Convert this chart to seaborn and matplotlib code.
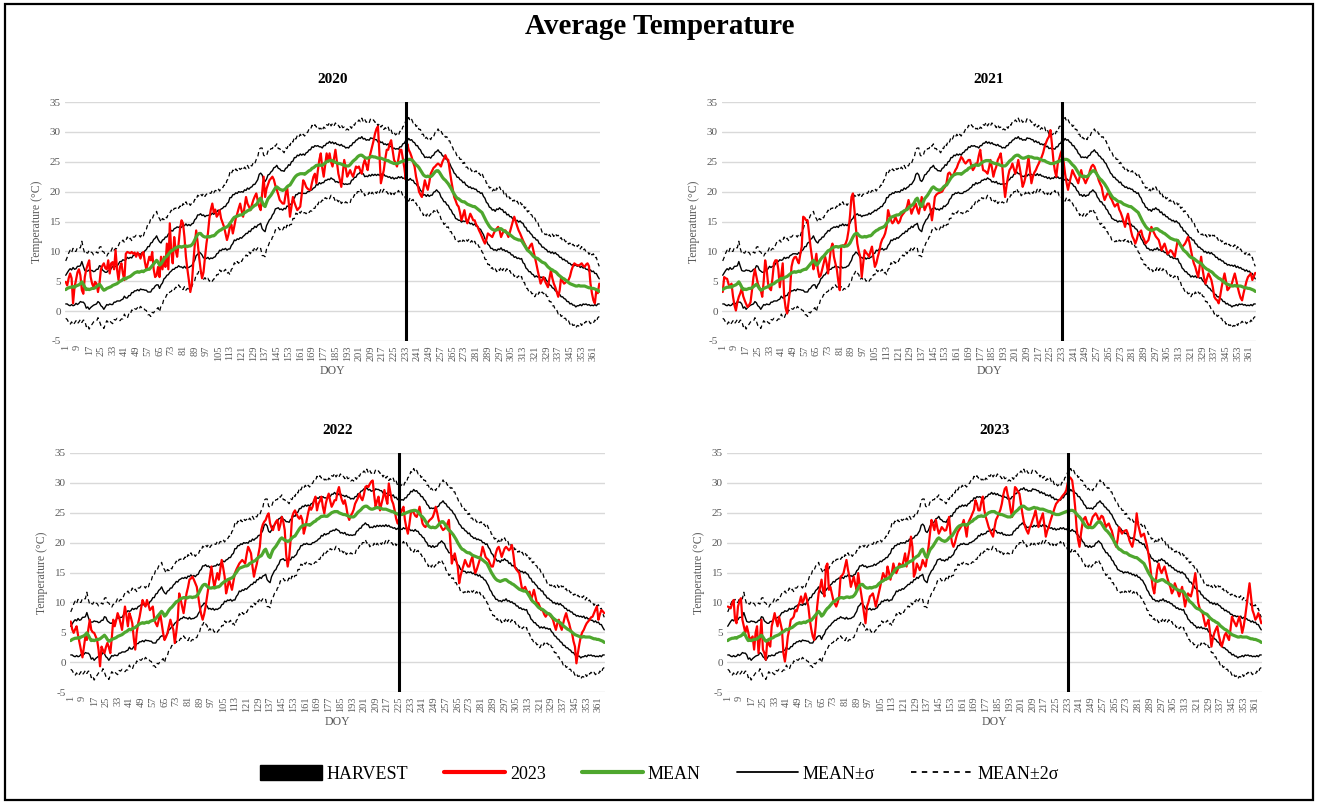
import numpy as np
import pandas as pd
import matplotlib
matplotlib.use("Agg")
import matplotlib.pyplot as plt
import seaborn as sns
from matplotlib.lines import Line2D
from matplotlib.patches import Patch, Rectangle

# ---------------------------------------------------------------------------
# Daily average temperature (°C) by day of year
# ---------------------------------------------------------------------------
YEARS = ["2020", "2021", "2022", "2023"]
HARVEST_DOY = [233, 233, 225, 233]

MEAN = [
    3.6, 3.8, 3.9, 4.0, 4.0, 4.1, 4.0, 4.2, 4.3, 4.4,
    4.6, 4.9, 4.5, 4.0, 3.6, 3.7, 3.6, 3.7, 3.8, 3.8,
    3.9, 4.1, 4.3, 4.5, 4.2, 3.8, 3.5, 3.6, 3.8, 3.9,
    4.0, 4.1, 4.3, 4.4, 4.5, 4.6, 4.8, 5.0, 5.1, 5.3,
    5.5, 5.4, 5.6, 5.7, 5.8, 6.0, 6.2, 6.4, 6.5, 6.6,
    6.5, 6.6, 6.7, 6.6, 6.8, 6.9, 7.0, 7.0, 7.3, 7.6,
    7.9, 8.2, 8.5, 8.2, 7.7, 7.9, 8.3, 8.7, 9.0, 9.2,
    9.5, 9.8, 10.1, 10.2, 10.4, 10.6, 10.7, 10.8, 10.8, 10.7,
    10.8, 10.9, 10.9, 10.8, 10.9, 10.9, 11.1, 11.4, 11.9, 12.4,
    12.8, 13.0, 13.0, 12.7, 12.5, 12.4, 12.4, 12.5, 12.4, 12.5,
    12.6, 12.6, 12.8, 13.1, 13.3, 13.5, 13.6, 13.8, 13.9, 14.0,
    14.1, 14.3, 14.7, 15.0, 15.4, 15.7, 15.8, 15.9, 16.0, 16.1,
    16.1, 16.2, 16.5, 16.6, 16.8, 16.9, 17.0, 17.3, 17.5, 17.7,
    17.8, 18.2, 18.7, 18.9, 18.3, 17.7, 17.5, 18.2, 18.8, 19.1,
    19.4, 19.8, 20.2, 20.6, 20.8, 20.6, 20.4, 20.3, 20.2, 20.3,
    20.5, 20.8, 21.0, 21.1, 21.5, 21.9, 22.3, 22.6, 22.8, 22.9,
    23.0, 23.0, 23.0, 22.9, 23.1, 23.3, 23.5, 23.6, 23.9, 24.0,
    24.2, 24.4, 24.4, 24.5, 24.4, 24.4, 24.6, 24.8, 25.0, 25.1,
    25.2, 25.2, 25.2, 25.0, 24.9, 24.8, 24.7, 24.7, 24.6, 24.5,
    24.4, 24.3, 24.3, 24.3, 24.5, 24.8, 25.1, 25.3, 25.5, 25.8,
    26.0, 26.1, 26.1, 25.9, 25.7, 25.6, 25.6, 25.7, 25.8, 25.9,
    25.8, 25.8, 25.7, 25.6, 25.6, 25.6, 25.5, 25.4, 25.3, 25.2,
    25.2, 25.0, 24.9, 24.8, 24.7, 24.7, 24.7, 24.8, 24.9, 25.0,
    25.1, 25.2, 25.3, 25.3, 25.4, 25.4, 25.3, 25.1, 24.8, 24.5,
    24.3, 24.0, 23.6, 23.2, 22.8, 22.6, 22.5, 22.6, 22.5, 22.5,
    22.7, 23.0, 23.3, 23.5, 23.5, 23.2, 22.8, 22.4, 22.1, 21.9,
    21.6, 21.3, 20.9, 20.5, 20.0, 19.6, 19.2, 18.9, 18.8, 18.6,
    18.4, 18.3, 18.3, 18.1, 17.9, 17.8, 17.7, 17.6, 17.5, 17.5,
    17.3, 17.1, 16.9, 16.7, 16.5, 16.0, 15.5, 15.0, 14.6, 14.2,
    13.9, 13.7, 13.6, 13.5, 13.6, 13.7, 13.8, 13.8, 13.6, 13.4,
    13.3, 13.1, 13.0, 12.8, 12.6, 12.4, 12.2, 12.1, 12.0, 11.9,
    11.9, 11.8, 11.4, 11.0, 10.6, 10.2, 10.0, 9.8, 9.5, 9.2,
    9.0, 8.9, 8.8, 8.6, 8.4, 8.2, 8.1, 8.0, 7.7, 7.4,
    7.2, 7.0, 6.9, 6.7, 6.6, 6.4, 6.1, 5.9, 5.7, 5.5,
    5.4, 5.2, 5.0, 4.8, 4.6, 4.5, 4.4, 4.3, 4.2, 4.2,
    4.3, 4.2, 4.2, 4.2, 4.2, 4.1, 4.0, 3.9, 3.9, 3.8,
    3.8, 3.7, 3.6, 3.5, 3.3,
]

SIGMA = [
    2.4, 2.6, 2.9, 3.1, 2.9, 3.2, 3.0, 2.9, 3.2, 3.1,
    3.0, 3.4, 3.0, 2.8, 3.1, 3.0, 3.3, 3.1, 3.0, 2.8,
    2.8, 2.9, 2.7, 3.1, 3.3, 3.1, 3.2, 2.9, 2.7, 2.9,
    2.8, 3.0, 3.2, 2.9, 3.0, 2.9, 3.1, 3.3, 3.2, 3.3,
    3.0, 3.2, 3.4, 3.1, 3.2, 2.9, 3.1, 3.0, 3.1, 3.0,
    3.1, 2.9, 3.1, 3.0, 3.3, 3.4, 3.8, 3.8, 4.1, 3.9,
    4.1, 4.0, 4.1, 3.8, 3.9, 3.5, 3.6, 3.3, 3.4, 3.2,
    3.4, 3.3, 3.4, 3.2, 3.4, 3.3, 3.4, 3.2, 3.4, 3.3,
    3.6, 3.4, 3.7, 3.5, 3.6, 3.4, 3.5, 3.3, 3.4, 3.1,
    3.3, 3.1, 3.3, 3.3, 3.6, 3.4, 3.6, 3.5, 3.7, 3.6,
    3.8, 3.6, 3.7, 3.5, 3.6, 3.3, 3.5, 3.4, 3.6, 3.5,
    3.9, 3.9, 4.3, 4.0, 4.1, 3.8, 4.0, 3.8, 4.0, 3.8,
    3.9, 3.7, 3.8, 3.6, 3.8, 3.5, 3.7, 3.5, 3.7, 3.5,
    3.8, 3.8, 4.2, 4.2, 4.5, 4.2, 4.2, 3.9, 4.0, 3.8,
    3.9, 3.7, 3.8, 3.5, 3.6, 3.3, 3.4, 3.2, 3.3, 3.1,
    3.4, 3.2, 3.5, 3.3, 3.5, 3.2, 3.4, 3.1, 3.3, 3.1,
    3.3, 3.1, 3.3, 3.2, 3.4, 3.3, 3.5, 3.4, 3.6, 3.4,
    3.5, 3.2, 3.3, 3.0, 3.1, 2.9, 3.1, 2.9, 3.1, 3.0,
    3.2, 2.9, 3.1, 3.0, 3.3, 3.1, 3.2, 3.0, 3.3, 3.1,
    3.2, 3.0, 3.1, 3.0, 3.2, 2.9, 3.1, 2.9, 3.1, 2.9,
    3.0, 2.8, 3.1, 2.9, 3.2, 3.0, 3.1, 2.9, 3.2, 3.0,
    3.1, 2.9, 3.0, 2.7, 2.9, 2.6, 2.8, 2.5, 2.7, 2.6,
    2.8, 2.5, 2.7, 2.4, 2.6, 2.4, 2.5, 2.3, 2.6, 2.5,
    2.9, 2.9, 3.3, 3.2, 3.5, 3.2, 3.4, 3.2, 3.4, 3.2,
    3.4, 3.2, 3.4, 3.2, 3.4, 3.1, 3.3, 3.1, 3.3, 3.1,
    3.3, 3.1, 3.3, 3.2, 3.5, 3.4, 3.7, 3.6, 3.8, 3.6,
    3.8, 3.6, 3.8, 3.6, 3.7, 3.5, 3.7, 3.5, 3.6, 3.4,
    3.5, 3.2, 3.3, 3.0, 3.1, 2.9, 3.1, 2.9, 3.1, 2.9,
    3.1, 2.9, 3.1, 3.0, 3.3, 3.2, 3.4, 3.2, 3.4, 3.2,
    3.4, 3.2, 3.4, 3.2, 3.5, 3.3, 3.5, 3.2, 3.4, 3.1,
    3.3, 3.0, 3.2, 3.0, 3.2, 3.0, 3.2, 3.0, 3.2, 3.0,
    3.2, 3.0, 3.3, 3.1, 3.4, 3.2, 3.4, 3.2, 3.3, 3.1,
    3.3, 3.0, 3.1, 2.7, 2.8, 2.5, 2.6, 2.4, 2.6, 2.5,
    2.8, 2.7, 3.0, 2.9, 3.2, 3.1, 3.3, 3.1, 3.3, 3.1,
    3.3, 3.2, 3.4, 3.2, 3.4, 3.2, 3.4, 3.3, 3.5, 3.3,
    3.4, 3.1, 3.3, 3.0, 3.1, 2.9, 3.0, 2.8, 3.0, 2.8,
    2.9, 2.6, 2.7, 2.3, 2.1,
]

TEMP_2020 = [
    4.9, 4.3, 5.5, 6.3, 5.5, 1.3, 4.0, 5.2, 6.5, 7.0,
    6.0, 3.5, 2.9, 5.7, 7.0, 7.8, 8.5, 5.7, 4.6, 4.0,
    4.9, 4.6, 3.2, 4.6, 7.0, 7.6, 8.0, 7.2, 7.0, 8.5,
    6.3, 8.0, 8.2, 7.0, 10.2, 7.0, 5.2, 7.4, 8.0, 6.3,
    5.2, 9.6, 9.9, 9.8, 9.7, 9.9, 9.6, 9.8, 9.1, 9.8,
    9.4, 8.8, 9.6, 9.9, 8.2, 7.0, 8.0, 9.1, 8.5, 9.9,
    7.0, 5.7, 6.0, 7.4, 5.7, 9.1, 7.0, 9.1, 7.4, 11.3,
    7.0, 14.7, 9.9, 8.0, 12.4, 10.2, 9.1, 11.3, 13.8, 15.2,
    14.7, 12.4, 9.1, 7.0, 5.2, 3.2, 4.5, 8.0, 11.0, 13.5,
    11.5, 9.0, 7.0, 5.5, 6.5, 9.0, 11.3, 13.0, 15.5, 17.0,
    18.0, 16.5, 17.0, 15.8, 16.2, 16.9, 15.5, 14.8, 14.1, 13.0,
    11.9, 12.8, 14.1, 14.5, 13.0, 14.2, 15.5, 16.3, 17.2, 18.0,
    16.8, 15.8, 17.5, 19.1, 18.0, 17.5, 16.9, 17.8, 18.6, 19.2,
    19.7, 18.5, 17.5, 16.9, 19.8, 22.5, 19.1, 20.5, 21.2, 21.9,
    22.2, 22.5, 22.0, 21.0, 20.3, 19.5, 18.6, 18.3, 18.0, 18.0,
    19.5, 20.8, 18.5, 15.8, 17.5, 19.1, 18.2, 17.5, 16.9, 17.2,
    17.5, 19.5, 21.9, 21.5, 20.8, 20.5, 20.3, 20.3, 21.5, 22.5,
    23.0, 21.4, 23.5, 25.3, 26.4, 24.0, 22.5, 24.5, 26.4, 25.0,
    26.4, 25.0, 24.2, 25.5, 27.0, 25.0, 23.0, 22.0, 20.8, 23.0,
    25.3, 24.0, 22.5, 23.0, 23.6, 23.0, 22.5, 23.3, 24.2, 24.0,
    24.2, 23.5, 23.0, 24.5, 25.3, 24.5, 23.6, 25.5, 26.5, 27.5,
    28.5, 29.7, 30.5, 30.9, 26.4, 21.4, 22.5, 23.6, 25.5, 27.0,
    27.0, 28.0, 28.6, 27.0, 25.3, 24.8, 24.2, 25.5, 27.0, 27.0,
    25.5, 24.0, 22.0, 28.0, 27.0, 26.5, 25.8, 24.9, 24.2, 22.5,
    21.4, 20.0, 19.5, 19.1, 20.5, 21.9, 21.0, 20.3, 21.5, 23.0,
    23.5, 24.0, 24.2, 24.5, 24.7, 24.5, 24.2, 25.0, 25.5, 26.1,
    25.5, 25.3, 23.5, 21.9, 20.5, 19.1, 18.5, 17.8, 17.5, 16.5,
    15.2, 16.0, 16.9, 15.5, 14.7, 15.5, 16.3, 15.8, 15.2, 15.2,
    14.5, 14.1, 13.5, 13.0, 12.4, 11.8, 11.3, 12.0, 13.0, 12.8,
    12.6, 12.4, 13.0, 13.5, 13.8, 14.1, 13.5, 12.4, 13.0, 13.5,
    13.5, 13.0, 12.4, 13.2, 14.1, 15.0, 15.8, 15.0, 14.2, 13.5,
    13.0, 12.4, 11.8, 11.3, 10.8, 10.2, 10.5, 11.0, 11.3, 10.2,
    9.1, 8.0, 6.8, 5.7, 4.6, 5.2, 5.7, 5.0, 4.5, 4.0,
    5.5, 6.8, 5.5, 4.6, 4.0, 3.2, 2.4, 3.5, 5.7, 5.0,
    4.6, 4.8, 5.0, 5.2, 5.8, 6.8, 7.5, 8.0, 7.8, 7.7,
    7.6, 7.8, 8.0, 7.6, 7.4, 7.8, 8.0, 7.5, 4.6, 3.0,
    1.8, 1.3, 3.5, 3.0, 4.6,
]

TEMP_2021 = [
    3.2, 5.7, 5.5, 5.4, 4.5, 4.0, 4.6, 2.5, 1.0, 0.1,
    1.5, 2.4, 3.0, 3.8, 2.5, 1.8, 1.2, 0.7, 1.0, 1.5,
    3.5, 5.7, 7.0, 5.8, 4.6, 4.0, 3.5, 2.4, 5.0, 8.5,
    7.0, 4.6, 3.8, 3.5, 5.5, 8.0, 8.5, 8.5, 7.0, 4.0,
    6.0, 8.0, 2.4, 0.5, -0.4, 1.5, 3.5, 7.4, 8.5, 9.0,
    9.1, 8.5, 8.0, 9.5, 10.8, 15.8, 15.6, 15.2, 15.2, 13.0,
    10.8, 9.0, 7.0, 8.0, 9.6, 7.0, 5.7, 6.0, 7.0, 8.0,
    9.1, 8.0, 6.3, 8.5, 10.5, 11.3, 9.1, 8.0, 7.0, 5.0,
    3.5, 10.8, 11.0, 11.0, 11.3, 12.0, 13.5, 16.0, 19.1, 19.7,
    17.0, 14.0, 11.3, 10.0, 9.1, 5.7, 8.0, 10.2, 9.8, 9.5,
    9.1, 10.0, 10.8, 9.0, 7.4, 8.0, 9.1, 10.0, 11.3, 12.0,
    12.4, 13.0, 14.1, 16.9, 16.0, 15.2, 14.7, 15.0, 15.8, 15.2,
    14.7, 15.0, 15.8, 16.2, 16.5, 16.9, 17.5, 18.6, 17.5, 16.3,
    17.0, 17.5, 18.0, 17.0, 16.3, 17.5, 19.1, 18.0, 16.9, 17.5,
    18.0, 18.0, 17.0, 15.2, 17.0, 19.1, 19.5, 19.7, 19.8, 19.9,
    20.0, 20.5, 20.8, 21.5, 23.0, 23.2, 22.8, 22.5, 23.0, 23.6,
    24.0, 24.7, 25.2, 25.8, 25.5, 25.0, 24.7, 25.0, 25.3, 25.3,
    24.2, 23.6, 24.0, 24.7, 24.7, 26.0, 27.0, 25.0, 23.6, 23.5,
    23.3, 23.0, 24.0, 25.3, 24.0, 22.5, 23.5, 24.2, 25.3, 25.8,
    26.4, 24.5, 21.4, 19.1, 21.0, 22.5, 23.6, 24.0, 24.7, 23.8,
    23.0, 24.0, 25.3, 24.0, 22.5, 20.8, 21.5, 22.5, 24.0, 25.8,
    23.5, 21.4, 22.5, 23.2, 23.6, 24.2, 24.7, 25.3, 25.8, 26.5,
    27.5, 28.2, 28.8, 29.2, 30.3, 28.0, 25.3, 23.5, 22.5, 24.7,
    25.5, 26.4, 27.0, 25.0, 23.0, 21.5, 20.3, 21.5, 22.5, 23.6,
    23.0, 22.5, 22.0, 21.4, 22.5, 23.6, 22.5, 22.0, 21.4, 22.0,
    22.5, 23.5, 24.2, 24.5, 24.2, 23.5, 22.8, 21.9, 21.3, 20.8,
    19.5, 18.6, 19.2, 19.7, 19.7, 19.0, 18.6, 18.0, 17.5, 17.8,
    18.0, 17.0, 16.5, 15.8, 15.0, 14.1, 15.5, 16.3, 15.0, 13.5,
    12.5, 12.0, 11.3, 12.0, 13.0, 13.2, 13.5, 12.5, 12.0, 11.3,
    11.6, 11.9, 13.0, 14.1, 13.5, 13.0, 12.5, 12.2, 11.9, 11.0,
    10.2, 10.8, 11.3, 10.5, 9.6, 9.8, 10.2, 10.0, 9.5, 9.1,
    10.5, 11.9, 11.5, 11.0, 10.8, 11.0, 11.3, 11.8, 12.4, 11.5,
    10.2, 9.0, 8.0, 7.4, 6.5, 5.7, 7.5, 9.1, 7.0, 5.5,
    4.6, 5.5, 6.3, 5.8, 5.2, 4.0, 2.4, 2.0, 1.8, 1.3,
    2.5, 4.0, 5.2, 6.3, 5.0, 3.5, 3.8, 4.2, 4.6, 5.5,
    6.3, 5.2, 4.0, 3.0, 2.2, 1.8, 3.0, 4.0, 5.0, 5.7,
    6.0, 6.3, 5.2, 5.8, 6.4,
]

TEMP_2022 = [
    6.8, 5.5, 4.9, 5.5, 6.0, 4.5, 3.2, 2.0, 0.8, 2.5,
    4.3, 3.7, 5.5, 7.1, 5.4, 5.0, 4.9, 4.3, 3.7, 2.0,
    -0.7, 2.6, 2.0, 1.5, 2.5, 3.2, 2.5, 1.5, 4.0, 7.1,
    6.0, 7.0, 8.2, 7.5, 6.5, 5.4, 7.5, 9.3, 7.8, 6.0,
    8.2, 7.5, 6.5, 4.0, 2.1, 4.9, 6.5, 7.6, 9.0, 10.4,
    9.8, 9.3, 10.4, 9.6, 8.7, 9.0, 9.3, 7.1, 6.5, 6.0,
    7.0, 8.2, 6.5, 4.9, 3.7, 4.2, 4.9, 6.0, 7.1, 6.2,
    5.4, 3.2, 5.0, 7.1, 11.5, 10.5, 9.3, 8.2, 9.8, 11.5,
    12.5, 13.8, 14.0, 14.3, 13.8, 13.2, 12.6, 11.0, 9.3, 8.0,
    7.1, 8.0, 9.3, 11.0, 12.6, 14.5, 16.0, 14.0, 12.6, 13.8,
    14.9, 13.8, 15.5, 17.1, 15.8, 14.3, 11.5, 12.5, 13.8, 13.0,
    12.1, 13.5, 14.9, 15.5, 16.0, 16.5, 16.8, 17.1, 16.8, 16.5,
    18.0, 19.3, 18.8, 18.2, 16.0, 14.3, 15.5, 16.5, 18.0, 19.3,
    22.1, 23.0, 23.5, 23.8, 24.5, 24.9, 23.2, 22.5, 22.1, 23.0,
    23.5, 23.8, 22.1, 23.0, 24.3, 23.5, 22.1, 18.0, 16.0, 17.5,
    20.4, 24.3, 25.0, 25.4, 24.8, 24.3, 24.0, 24.5, 23.8, 21.5,
    22.5, 23.8, 25.0, 26.0, 25.5, 26.0, 27.1, 27.7, 25.4, 26.5,
    27.0, 27.7, 26.0, 24.9, 26.5, 27.5, 28.2, 27.0, 26.0, 26.5,
    27.1, 27.1, 28.5, 29.3, 28.0, 27.1, 26.5, 27.1, 26.0, 24.5,
    23.8, 24.5, 24.9, 25.5, 26.5, 27.0, 27.5, 28.2, 27.5, 27.1,
    28.0, 29.3, 29.5, 29.3, 29.8, 30.2, 30.4, 28.0, 26.0, 27.0,
    27.7, 25.4, 26.5, 27.5, 28.8, 27.5, 26.5, 29.9, 28.5, 27.1,
    26.5, 25.4, 24.0, 23.2, 24.0, 24.9, 25.5, 26.0, 23.8, 22.5,
    21.5, 23.0, 24.9, 25.4, 25.0, 24.5, 24.3, 25.0, 26.0, 24.5,
    23.2, 22.8, 22.6, 23.0, 23.5, 23.8, 24.0, 24.3, 25.0, 26.0,
    25.0, 23.8, 23.0, 22.5, 22.1, 22.3, 22.6, 23.2, 23.8, 20.0,
    16.5, 17.5, 18.2, 17.0, 16.0, 13.2, 14.5, 15.4, 16.2, 17.1,
    16.5, 16.0, 16.0, 17.0, 17.6, 16.0, 14.9, 15.5, 16.3, 17.1,
    18.0, 19.3, 18.5, 17.6, 17.3, 17.1, 16.5, 16.0, 16.0, 17.0,
    18.2, 19.0, 19.3, 18.5, 17.6, 18.3, 19.0, 19.3, 19.0, 18.7,
    19.0, 19.6, 18.0, 16.0, 15.5, 15.2, 14.9, 13.5, 12.1, 12.3,
    12.6, 12.0, 11.5, 11.8, 10.4, 11.2, 12.1, 11.0, 9.9, 9.9,
    9.3, 8.7, 8.7, 8.0, 7.6, 8.0, 8.2, 7.8, 7.5, 7.1,
    6.2, 5.4, 6.5, 7.1, 6.0, 5.4, 6.5, 7.5, 8.2, 7.2,
    6.5, 5.5, 4.9, 3.5, 2.6, -0.2, 1.5, 3.0, 4.3, 5.0,
    5.4, 6.0, 6.5, 6.8, 7.1, 7.5, 7.6, 8.2, 8.8, 9.3,
    7.1, 8.0, 8.7, 8.5, 8.2,
]

TEMP_2023 = [
    9.3, 9.2, 9.0, 9.8, 10.4, 7.1, 6.5, 9.3, 10.2, 10.7,
    7.1, 6.0, 4.9, 6.0, 5.0, 3.7, 4.0, 4.3, 2.1, 4.9,
    6.0, 1.5, 4.0, 7.1, 2.1, 1.5, 0.4, 3.7, 3.0, 2.6,
    6.0, 7.0, 8.2, 7.0, 6.0, 7.6, 6.5, 5.4, 1.5, 0.1,
    2.0, 4.3, 5.5, 7.1, 7.3, 7.6, 8.7, 8.5, 9.3, 10.0,
    11.0, 9.9, 10.5, 11.5, 10.5, 9.3, 7.1, 5.5, 4.3, 3.7,
    6.0, 9.3, 11.5, 12.5, 13.8, 12.0, 11.0, 16.0, 16.5, 12.1,
    12.6, 11.5, 10.4, 9.8, 9.3, 10.0, 11.0, 14.3, 14.5, 14.9,
    16.0, 17.1, 15.5, 14.3, 12.6, 13.5, 14.3, 13.0, 12.1, 14.9,
    13.0, 11.5, 9.8, 8.2, 6.5, 9.3, 10.0, 11.0, 11.2, 11.5,
    10.5, 9.3, 10.4, 11.5, 12.6, 13.8, 14.9, 14.3, 13.8, 16.0,
    15.0, 13.8, 15.0, 16.5, 15.5, 14.9, 15.5, 16.5, 16.3, 16.0,
    17.0, 18.2, 16.0, 17.5, 18.8, 21.0, 19.3, 14.3, 15.0, 16.5,
    16.0, 15.4, 16.0, 17.1, 16.5, 16.0, 17.5, 19.3, 21.5, 23.8,
    23.0, 22.1, 23.8, 22.5, 21.5, 22.0, 22.6, 22.3, 22.0, 22.1,
    23.0, 24.3, 21.5, 20.0, 19.3, 20.0, 21.0, 21.8, 22.2, 22.6,
    23.0, 23.8, 22.5, 21.0, 23.2, 23.8, 24.3, 24.9, 25.5, 27.1,
    26.5, 25.4, 25.4, 26.8, 27.7, 25.5, 24.3, 23.5, 22.6, 22.0,
    21.5, 21.0, 22.5, 23.8, 24.3, 24.9, 25.5, 26.5, 28.0, 29.0,
    29.3, 28.0, 27.1, 25.5, 24.3, 27.0, 29.3, 29.0, 28.5, 28.2,
    26.5, 24.9, 23.5, 22.6, 22.0, 21.5, 22.5, 23.0, 23.8, 24.5,
    25.4, 24.0, 22.6, 23.5, 24.2, 24.9, 23.0, 21.0, 22.0, 22.6,
    23.5, 24.3, 25.0, 25.8, 26.5, 26.8, 27.1, 27.3, 27.7, 28.0,
    28.3, 28.8, 30.0, 31.0, 30.8, 30.4, 28.5, 26.0, 22.5, 20.5,
    19.3, 21.5, 23.2, 24.0, 24.3, 23.5, 23.0, 22.6, 23.5, 24.3,
    24.6, 24.9, 24.5, 23.8, 24.0, 24.5, 24.3, 23.5, 22.6, 23.0,
    23.2, 22.5, 22.0, 21.0, 20.0, 19.3, 20.5, 22.6, 22.0, 21.5,
    21.8, 22.0, 22.1, 21.5, 20.4, 19.8, 19.3, 20.5, 22.1, 24.9,
    23.0, 22.0, 21.0, 21.3, 21.5, 20.5, 19.5, 18.2, 16.5, 14.3,
    12.5, 11.5, 13.5, 15.5, 16.5, 15.5, 14.9, 15.5, 16.0, 15.0,
    14.0, 13.2, 12.5, 11.5, 12.0, 13.2, 12.5, 11.8, 11.0, 11.8,
    12.6, 11.0, 9.3, 10.5, 11.5, 11.2, 11.0, 12.0, 13.5, 14.9,
    12.5, 9.9, 9.0, 8.5, 8.2, 7.0, 6.0, 6.5, 7.1, 5.0,
    2.6, 4.0, 4.9, 5.5, 6.0, 4.5, 3.5, 2.6, 3.5, 4.5,
    4.9, 4.2, 3.7, 5.5, 7.6, 7.0, 6.5, 6.0, 6.8, 7.6,
    6.5, 4.9, 6.0, 7.6, 9.5, 11.5, 13.2, 11.0, 8.7, 8.0,
    7.1, 7.5, 8.2, 7.5, 6.5,
]

YEAR_SERIES = [TEMP_2020, TEMP_2021, TEMP_2022, TEMP_2023]
XTICKS = list(range(1, 366, 8))
YTICKS = [-5, 0, 5, 10, 15, 20, 25, 30, 35]

# ---------------------------------------------------------------------------
# Styling
# ---------------------------------------------------------------------------
sns.set_theme(style="white")
plt.rcParams["font.family"] = ["Liberation Serif", "DejaVu Serif"]
plt.rcParams["axes.unicode_minus"] = False
plt.rcParams["text.color"] = "black"

RED = "#FF0000"
GREEN = "#4EA72E"
GRID = "#D9D9D9"
TICK = "#595959"

W, H = 1319, 802
fig = plt.figure(figsize=(W / 100, H / 100), dpi=100)

# panel boxes in pixels: left, top, right, bottom
PANEL_PX = [
    (65, 102, 600, 341),
    (722, 102, 1256, 341),
    (70, 453, 605, 692),
    (727, 453, 1262, 692),
]

mean = np.array(MEAN)
sigma = np.array(SIGMA)
doy = np.arange(1, len(mean) + 1)
bands = pd.DataFrame({
    "DOY": doy,
    "MEAN": mean,
    "UP1": mean + sigma,
    "LO1": mean - sigma,
    "UP2": mean + 2 * sigma,
    "LO2": mean - 2 * sigma,
})

for i, (year, temps, harvest) in enumerate(zip(YEARS, YEAR_SERIES, HARVEST_DOY)):
    l, t, r, b = PANEL_PX[i]
    ax = fig.add_axes([l / W, 1 - b / H, (r - l) / W, (b - t) / H])

    for col in ("UP2", "LO2"):
        sns.lineplot(data=bands, x="DOY", y=col, ax=ax, color="black",
                     linewidth=0.9, linestyle=(0, (3.5, 2.5)), zorder=3)
    for col in ("UP1", "LO1"):
        sns.lineplot(data=bands, x="DOY", y=col, ax=ax, color="black",
                     linewidth=1.0, zorder=3)

    yr = pd.DataFrame({"DOY": np.arange(1, len(temps) + 1), "T": temps})
    sns.lineplot(data=yr, x="DOY", y="T", ax=ax, color=RED, linewidth=1.6, zorder=4)
    sns.lineplot(data=bands, x="DOY", y="MEAN", ax=ax, color=GREEN, linewidth=2.3, zorder=5)

    ax.axvline(harvest, color="black", linewidth=2.2, zorder=6)

    ax.set_xlim(0.5, len(mean) + 0.5)
    ax.set_ylim(-5, 35)
    ax.set_yticks(YTICKS)
    ax.set_yticklabels([str(v) for v in YTICKS], fontsize=8, color=TICK)
    ax.set_xticks(XTICKS)
    ax.set_xticklabels([str(v) for v in XTICKS], rotation=90, fontsize=7.5, color=TICK)
    ax.tick_params(axis="both", length=0, pad=3)
    ax.yaxis.grid(True, color=GRID, linewidth=1.0)
    ax.xaxis.grid(False)
    ax.set_axisbelow(True)
    for sp in ax.spines.values():
        sp.set_visible(False)

    ax.set_title(year, fontsize=11, fontweight="bold", color="black", pad=14)
    ax.set_xlabel("DOY", fontsize=8.5, color=TICK, labelpad=3)
    ax.set_ylabel("Temperature (°C)", fontsize=8.5, color=TICK, labelpad=5)

fig.text(0.5, 1 - 26 / H, "Average Temperature", ha="center", va="center",
         fontsize=21, fontweight="bold", color="black")

handles = [
    Patch(facecolor="black", edgecolor="black"),
    Line2D([], [], color=RED, linewidth=3),
    Line2D([], [], color=GREEN, linewidth=3),
    Line2D([], [], color="black", linewidth=1.3),
    Line2D([], [], color="black", linewidth=1.3, linestyle=(0, (3, 3))),
]
labels = ["HARVEST", "2023", "MEAN", "MEAN±σ", "MEAN±2σ"]
fig.legend(handles, labels, loc="center", bbox_to_anchor=(0.5, 1 - 774 / H),
           ncol=5, frameon=False, fontsize=13, handlelength=3.4, handleheight=0.9,
           handletextpad=0.25, columnspacing=2.0, labelcolor="black")

fig.add_artist(Rectangle((5 / W, 2 / H), 1308 / W, 796 / H, transform=fig.transFigure,
                         fill=False, edgecolor="black", linewidth=1.6))

fig.savefig("out.png", dpi=100)
